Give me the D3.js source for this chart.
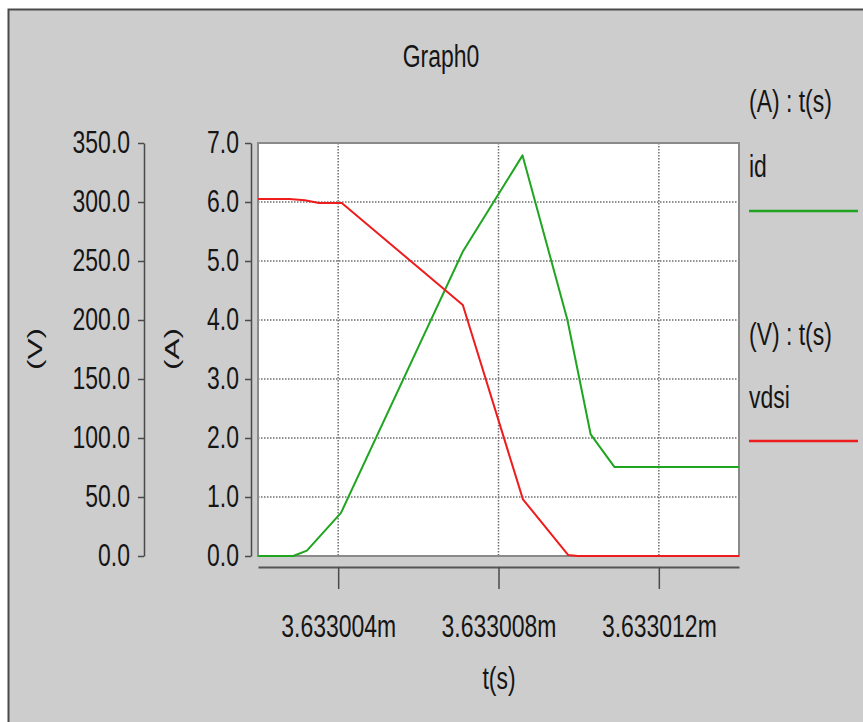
<!doctype html>
<html>
  <head>
    <meta charset="utf-8">
    <title>Graph0</title>
    <script src="https://cdn.jsdelivr.net/npm/d3@7"></script>
    <style>
      html, body { margin: 0; padding: 0; background: #fff; }
      svg { display: block; }
      text { font-family: "Liberation Sans", Arial, sans-serif; fill: #151515; }
    </style>
  </head>
  <body>
    <svg id="chart" width="863" height="722"></svg>

    <script>
      // drain current id (A) and drain-source voltage vdsi (V) against time (ms)
      var tId  = [3.633002, 3.63300288, 3.63300322, 3.63300407, 3.63300711, 3.6330086, 3.63300972, 3.6330103, 3.63301089, 3.633014];
      var id   = [0, 0, 0.09, 0.73, 5.16, 6.79, 4.00, 2.06, 1.51, 1.51];

      var tVdsi = [3.633002, 3.63300278, 3.63300317, 3.63300352, 3.63300409, 3.63300711, 3.63300861, 3.63300974, 3.63300998, 3.633014];
      var vdsi  = [302.5, 302.5, 301.5, 299.2, 299.2, 212.7, 48.0, 0.8, 0, 0];

      var timeTicks  = [3.633004, 3.633008, 3.633012];
      var timeLabels = ['3.633004m', '3.633008m', '3.633012m'];
      var ampTicks   = [0, 1, 2, 3, 4, 5, 6, 7];
      var voltTicks  = [0, 50, 100, 150, 200, 250, 300, 350];

      var svgWidth = 863;
      var svgHeight = 722;
      var plot = { left: 258, right: 739, top: 143, bottom: 556 };
      var fontSize = 31;

      var svg = d3.select('#chart');

      // grey window panel with a dark top/left edge
      svg.append('rect')
        .attr('x', 8).attr('y', 9)
        .attr('width', svgWidth - 8).attr('height', svgHeight - 9)
        .attr('fill', '#cdcdcd');
      svg.append('path')
        .attr('d', 'M' + svgWidth + ',9.5H8.5V' + svgHeight)
        .attr('fill', 'none')
        .attr('stroke', '#4a4a4a')
        .attr('stroke-width', 2);

      var x = d3.scaleLinear().domain([3.633002, 3.633014]).range([plot.left, plot.right]);
      var yA = d3.scaleLinear().domain([0, 7]).range([plot.bottom, plot.top]);
      var yV = d3.scaleLinear().domain([0, 350]).range([plot.bottom, plot.top]);

      // plot background
      svg.append('rect')
        .attr('x', plot.left).attr('y', plot.top)
        .attr('width', plot.right - plot.left).attr('height', plot.bottom - plot.top)
        .attr('fill', '#fff');

      // dotted grid
      var grid = svg.append('g')
        .attr('stroke', '#6e6e6e')
        .attr('stroke-width', 1.5)
        .attr('stroke-dasharray', '1.5,1.5');
      grid.selectAll('line.h')
        .data(ampTicks.slice(1, -1))
        .enter()
        .append('line')
        .attr('x1', plot.left).attr('x2', plot.right)
        .attr('y1', function (d) { return yA(d); })
        .attr('y2', function (d) { return yA(d); });
      grid.selectAll('line.v')
        .data(timeTicks)
        .enter()
        .append('line')
        .attr('y1', plot.top).attr('y2', plot.bottom)
        .attr('x1', function (d) { return x(d); })
        .attr('x2', function (d) { return x(d); });

      svg.append('rect')
        .attr('x', plot.left).attr('y', plot.top)
        .attr('width', plot.right - plot.left).attr('height', plot.bottom - plot.top)
        .attr('fill', 'none')
        .attr('stroke', '#8a8a8a')
        .attr('stroke-width', 2);

      // traces
      var idLine = d3.line()
        .x(function (d, i) { return x(tId[i]); })
        .y(function (d) { return yA(d); });
      var vLine = d3.line()
        .x(function (d, i) { return x(tVdsi[i]); })
        .y(function (d) { return yV(d); });

      svg.append('path')
        .datum(id)
        .attr('d', idLine)
        .attr('fill', 'none')
        .attr('stroke', '#1fa51f')
        .attr('stroke-width', 2)
        .attr('stroke-linejoin', 'round');
      svg.append('path')
        .datum(vdsi)
        .attr('d', vLine)
        .attr('fill', 'none')
        .attr('stroke', '#ee1c1c')
        .attr('stroke-width', 2)
        .attr('stroke-linejoin', 'round');

      // axes
      var ampAxis = svg.append('g')
        .attr('transform', 'translate(251,0)')
        .call(d3.axisLeft(yA)
          .tickValues(ampTicks)
          .tickFormat(function (d) { return d.toFixed(1); })
          .tickSize(6)
          .tickSizeOuter(0)
          .tickPadding(6));

      var voltAxis = svg.append('g')
        .attr('transform', 'translate(144,0)')
        .call(d3.axisLeft(yV)
          .tickValues(voltTicks)
          .tickFormat(function (d) { return d.toFixed(1); })
          .tickSize(6)
          .tickSizeOuter(0)
          .tickPadding(8));

      var timeAxis = svg.append('g')
        .attr('transform', 'translate(0,567)')
        .call(d3.axisBottom(x)
          .tickValues(timeTicks)
          .tickFormat(function (d, i) { return timeLabels[i]; })
          .tickSize(22)
          .tickSizeOuter(0)
          .tickPadding(26));

      [ampAxis, voltAxis, timeAxis].forEach(function (g) {
        g.select('.domain').attr('stroke', '#4a4a4a').attr('stroke-width', 1.5);
        g.selectAll('.tick line').attr('stroke', '#4a4a4a').attr('stroke-width', 1.5);
        g.selectAll('.tick text')
          .attr('class', 'narrow')
          .attr('fill', '#151515')
          .style('font-size', fontSize + 'px')
          .style('font-family', '"Liberation Sans", Arial, sans-serif');
      });
      timeAxis.select('.domain').attr('stroke', '#555').attr('stroke-width', 2);

      function label(txt, px, py, anchor) {
        return svg.append('text')
          .attr('class', 'narrow')
          .attr('x', px).attr('y', py)
          .attr('text-anchor', anchor || 'start')
          .style('font-size', fontSize + 'px')
          .text(txt);
      }

      label('Graph0', 441, 67, 'middle');
      label('t(s)', 499, 689, 'middle');

      // unit labels, rotated
      [['(V)', 35], ['(A)', 172]].forEach(function (u) {
        svg.append('text')
          .attr('transform', 'translate(' + u[1] + ',349) rotate(-90)')
          .attr('text-anchor', 'middle')
          .attr('dy', '0.35em')
          .attr('textLength', 42)
          .attr('lengthAdjust', 'spacingAndGlyphs')
          .style('font-size', '21px')
          .text(u[0]);
      });

      // legend
      label('(A) : t(s)', 749, 112);
      label('id', 749, 177);
      svg.append('line')
        .attr('x1', 749).attr('x2', 858)
        .attr('y1', 211).attr('y2', 211)
        .attr('stroke', '#1fa51f').attr('stroke-width', 2.5);
      label('(V) : t(s)', 749, 345);
      label('vdsi', 749, 408);
      svg.append('line')
        .attr('x1', 749).attr('x2', 858)
        .attr('y1', 441).attr('y2', 441)
        .attr('stroke', '#ee1c1c').attr('stroke-width', 2.5);

      // condensed lettering
      svg.selectAll('text.narrow').each(function () {
        var len = this.getComputedTextLength();
        d3.select(this)
          .attr('textLength', (len * 0.74).toFixed(1))
          .attr('lengthAdjust', 'spacingAndGlyphs');
      });
    </script>
  </body>
</html>
